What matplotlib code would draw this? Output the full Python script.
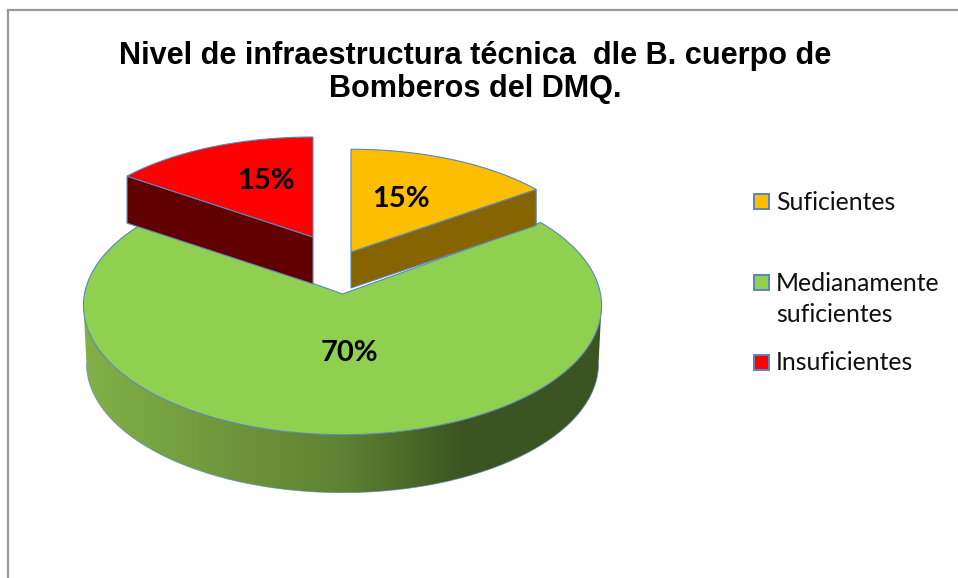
import numpy as np
import matplotlib
matplotlib.use('Agg')
import matplotlib.pyplot as plt
from matplotlib.colors import to_rgb
from matplotlib.patches import Polygon, Rectangle

title = "Nivel de infraestructura técnica  dle B. cuerpo de\nBomberos del DMQ."
categories = ["Suficientes", "Medianamente\nsuficientes", "Insuficientes"]
shares = [15, 70, 15]
top_colors = ['#FDBE00', '#90D050', '#FF0000']
side_colors = ['#866500', '#90D050', '#600000']

EDGE = '#5B86BC'
PERSPECTIVE = 0.09


def disc_point(theta, cx, cy, rx, ry):
    # theta is clockwise from the top, in degrees
    x = np.sin(np.radians(theta))
    y = np.cos(np.radians(theta))
    w = 1 + PERSPECTIVE * y
    return cx + rx * x / w, cy - ry * y / w


def side_colour(x):
    # shading of the green wall, light on the left and dark on the right
    left = np.array(to_rgb('#82B047'))
    mid = np.array(to_rgb('#5E8233'))
    right = np.array(to_rgb('#3C5421'))
    if x < 343:
        t = max((x - 85) / 258, 0)
        return left + (mid - left) * t
    t = min((x - 343) / 120, 1)
    return mid + (right - mid) * t


fig = plt.figure(figsize=(9.58, 5.78), dpi=100)
ax = fig.add_axes([0, 0, 1, 1])

# slice angles come from the shares
ends = np.cumsum(shares) * 3.6
starts = ends - np.array(shares) * 3.6

# green slice: wall first, then its top
g_cx, g_cy, g_rx, g_ry, g_depth = 342.5, 294, 258, 128, 58
angles = np.linspace(starts[1], ends[1], 400)
rim_x, rim_y = disc_point(angles, g_cx, g_cy, g_rx, g_ry)
low_x, low_y = disc_point(angles, g_cx, g_cy + g_depth, g_rx - 3, g_ry)

# only the front of the wall shows, between the widest points of each rim
a, b = np.argmax(rim_x), np.argmin(rim_x)
c, d = np.argmax(low_x), np.argmin(low_x)
wall_x = np.r_[rim_x[a:b + 1], low_x[c:d + 1][::-1]]
wall_y = np.r_[rim_y[a:b + 1], low_y[c:d + 1][::-1]]
wall = Polygon(np.c_[wall_x, wall_y], closed=True, transform=ax.transData,
               facecolor='none', edgecolor='none')
ax.add_patch(wall)
columns = np.arange(70, 620)
shade = np.array([[side_colour(x) for x in columns]])
img = ax.imshow(shade, extent=(70, 620, 520, 200), aspect='auto', zorder=1)
img.set_clip_path(wall)
ax.plot(low_x[c:d + 1], low_y[c:d + 1], color=EDGE, lw=0.6, alpha=0.7, zorder=2)
ax.fill(np.r_[g_cx, rim_x], np.r_[g_cy, rim_y], facecolor=top_colors[1],
        edgecolor=EDGE, lw=0.8, zorder=3)

# the two pulled out slices
params = {0: (351, 252, 241, 112, 36), 2: (313, 237, 242, 109, 47)}
for i, (cx, cy, rx, ry, depth) in params.items():
    angles = np.linspace(starts[i], ends[i], 80)
    xs, ys = disc_point(angles, cx, cy, rx, ry)
    # radial wall facing the viewer
    k = -1 if i == 0 else 0
    ax.fill([cx, xs[k], xs[k], cx], [cy, ys[k], ys[k] + depth, cy + depth],
            facecolor=side_colors[i], edgecolor=EDGE, lw=0.8, zorder=4)
    ax.fill(np.r_[cx, xs], np.r_[cy, ys], facecolor=top_colors[i],
            edgecolor=EDGE, lw=0.8, zorder=5)

# percentage labels
label_pos = [(401, 199), (349, 353), (266, 181)]
for share, (x, y) in zip(shares, label_pos):
    ax.text(x, y, f"{share}%", ha='center', va='center', fontsize=21,
            fontweight='bold', family='Lato', color='black', zorder=6)

ax.text(475, 72.5, title, ha='center', va='center', fontsize=22.1, fontweight='bold',
        family='Liberation Sans', linespacing=1.14, color='black')

# legend
legend_y = [202, 299, 363]
box_y = [201, 282, 362]
for name, colour, y, by in zip(categories, top_colors, legend_y, box_y):
    ax.add_patch(Rectangle((754.5, by - 7), 14.5, 14.5, facecolor=colour, edgecolor=EDGE, lw=1.4))
    ax.text(776, y, name, ha='left', va='center', fontsize=17.8, family='Lato',
            linespacing=1.47, color='#111111')

# chart border, only top and left are in the picture
ax.plot([8.5, 958], [9.5, 9.5], color='#9A9A9A', lw=1.6, clip_on=False)
ax.plot([8.5, 8.5], [9.5, 578], color='#9A9A9A', lw=1.6, clip_on=False)

ax.set_xlim(0, 958)
ax.set_ylim(578, 0)
ax.axis('off')

plt.savefig('out.png', dpi=100)
plt.close()
